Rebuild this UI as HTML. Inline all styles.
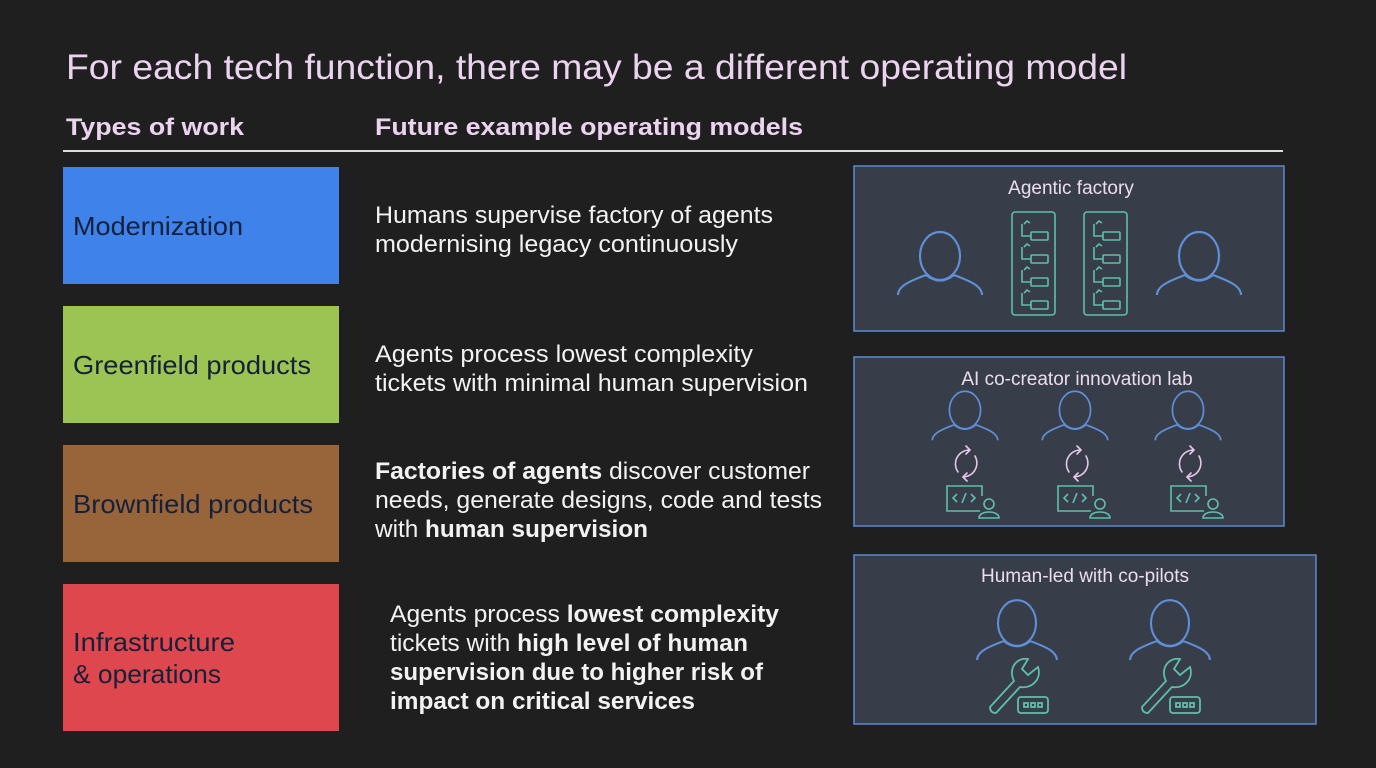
<!DOCTYPE html>
<html><head><meta charset="utf-8"><style>
html,body{margin:0;padding:0;background:#1f1f1f;}
svg{display:block;font-family:"Liberation Sans",sans-serif;}
</style></head><body>
<svg width="1376" height="768" viewBox="0 0 1376 768" xmlns="http://www.w3.org/2000/svg">
<defs>
<symbol id="p" overflow="visible"><g fill="none" stroke="#5f8fd6" stroke-width="2.2">
<ellipse cx="0" cy="0" rx="20" ry="24"/>
<path d="M-14 19 Q0 30 14 19 M-42 39 C-42 30 -30 25 -14 19 M42 39 C42 30 30 25 14 19"/></g></symbol>
<symbol id="col" overflow="visible"><g fill="none" stroke="#5fc0a8" stroke-width="1.6">
<rect x="0" y="0" width="43" height="103" rx="3"/>
<g id="it"><path d="M10 12 v12 h9 M12 12 l3 -3 l3 2"/><rect x="19" y="20" width="17" height="8" rx="1"/></g>
<use href="#it" y="23"/><use href="#it" y="46"/><use href="#it" y="69"/></g></symbol>
<symbol id="code" overflow="visible"><g fill="none" stroke="#5fc0a8" stroke-width="1.6">
<path d="M33 25 H0 V0 H35 V10"/><path d="M10 8 l-4 4 l4 4 M15 17 l4 -10 M24 8 l4 4 l-4 4"/>
<circle cx="42" cy="18" r="5"/><path d="M32 32 C32 24 52 24 52 32 Z"/></g></symbol>
<symbol id="cyc" overflow="visible"><g fill="none" stroke="#e6c6ea" stroke-width="1.6" stroke-linecap="round" stroke-linejoin="round">
<path d="M4 -13 A14 14 0 0 0 -8 9"/><path d="M0 -17 l4 4 l-4 4"/>
<path d="M9 -7 A14 14 0 0 1 -3 14"/><path d="M1 10 l-4 4 l4 4"/></g></symbol>
<symbol id="wr" overflow="visible"><g fill="none" stroke="#5fc0a8" stroke-width="1.8">
<path d="M-26 50 L-2 24 C-8 12 0 0 12 2 L6 12 L12 18 L22 10 C26 22 16 32 4 30 L-20 56 Q-26 56 -26 50 Z"/>
<rect x="2" y="40" width="30" height="16" rx="3"/>
<rect x="8" y="46" width="4" height="4"/><rect x="15" y="46" width="4" height="4"/><rect x="22" y="46" width="4" height="4"/></g></symbol>
</defs>
<text x="66" y="79" font-size="35" fill="#ecd3f0" textLength="1061" lengthAdjust="spacingAndGlyphs">For each tech function, there may be a different operating model</text>
<text x="66" y="135" font-size="24" font-weight="bold" fill="#ecd3f0" textLength="178" lengthAdjust="spacingAndGlyphs">Types of work</text>
<text x="375" y="135" font-size="24" font-weight="bold" fill="#ecd3f0" textLength="428" lengthAdjust="spacingAndGlyphs">Future example operating models</text>
<rect x="63" y="150" width="1220" height="2" fill="#dcdcdc"/>

<g font-size="26" fill="#15203a">
<rect x="63" y="167" width="276" height="117" fill="#3f82ea"/>
<text x="73" y="235" textLength="170" lengthAdjust="spacingAndGlyphs">Modernization</text>
<rect x="63" y="306" width="276" height="117" fill="#9bc452"/>
<text x="73" y="374" textLength="238" lengthAdjust="spacingAndGlyphs">Greenfield products</text>
<rect x="63" y="445" width="276" height="117" fill="#98653b"/>
<text x="73" y="513" textLength="240" lengthAdjust="spacingAndGlyphs">Brownfield products</text>
<rect x="63" y="584" width="276" height="147" fill="#df474e"/>
<text x="73" y="651" textLength="162" lengthAdjust="spacingAndGlyphs">Infrastructure</text>
<text x="73" y="683" textLength="148" lengthAdjust="spacingAndGlyphs">&amp; operations</text>
</g>

<g font-size="24" fill="#f2f2f2">
<text x="375" y="223" textLength="398" lengthAdjust="spacingAndGlyphs">Humans supervise factory of agents</text>
<text x="375" y="252" textLength="363" lengthAdjust="spacingAndGlyphs">modernising legacy continuously</text>
<text x="375" y="362" textLength="378" lengthAdjust="spacingAndGlyphs">Agents process lowest complexity</text>
<text x="375" y="391" textLength="433" lengthAdjust="spacingAndGlyphs">tickets with minimal human supervision</text>
<text x="375" y="479" textLength="435" lengthAdjust="spacingAndGlyphs"><tspan font-weight="bold">Factories of agents</tspan> discover customer</text>
<text x="375" y="508" textLength="447" lengthAdjust="spacingAndGlyphs">needs, generate designs, code and tests</text>
<text x="375" y="537" textLength="273" lengthAdjust="spacingAndGlyphs">with <tspan font-weight="bold">human supervision</tspan></text>
<text x="390" y="622" textLength="389" lengthAdjust="spacingAndGlyphs">Agents process <tspan font-weight="bold">lowest complexity</tspan></text>
<text x="390" y="651" textLength="358" lengthAdjust="spacingAndGlyphs">tickets with <tspan font-weight="bold">high level of human</tspan></text>
<text x="390" y="680" font-weight="bold" textLength="373" lengthAdjust="spacingAndGlyphs">supervision due to higher risk of</text>
<text x="390" y="709" font-weight="bold" textLength="305" lengthAdjust="spacingAndGlyphs">impact on critical services</text>
</g>

<g fill="#373d49" stroke="#5b8ad0" stroke-width="1.5">
<rect x="854" y="166" width="430" height="165"/>
<rect x="854" y="357" width="430" height="169"/>
<rect x="854" y="555" width="462" height="169"/>
</g>
<g font-size="19" fill="#ecdcee" text-anchor="middle">
<text x="1071" y="194">Agentic factory</text>
<text x="1077" y="385">AI co-creator innovation lab</text>
<text x="1085" y="582">Human-led with co-pilots</text>
</g>
<use href="#p" x="940" y="256"/><use href="#p" x="1199" y="256"/>
<use href="#col" x="1012" y="212"/><use href="#col" x="1084" y="212"/>
<g transform="translate(965,410) scale(0.78)"><use href="#p"/></g>
<g transform="translate(1075,410) scale(0.78)"><use href="#p"/></g>
<g transform="translate(1188,410) scale(0.78)"><use href="#p"/></g>
<use href="#cyc" x="966" y="463"/><use href="#cyc" x="1077" y="463"/><use href="#cyc" x="1190" y="463"/>
<use href="#code" x="947" y="486"/><use href="#code" x="1058" y="486"/><use href="#code" x="1171" y="486"/>
<g transform="translate(1017,623) scale(0.95)"><use href="#p"/></g>
<g transform="translate(1170,623) scale(0.95)"><use href="#p"/></g>
<use href="#wr" x="1016" y="657"/><use href="#wr" x="1168" y="657"/>
</svg>
</body></html>
